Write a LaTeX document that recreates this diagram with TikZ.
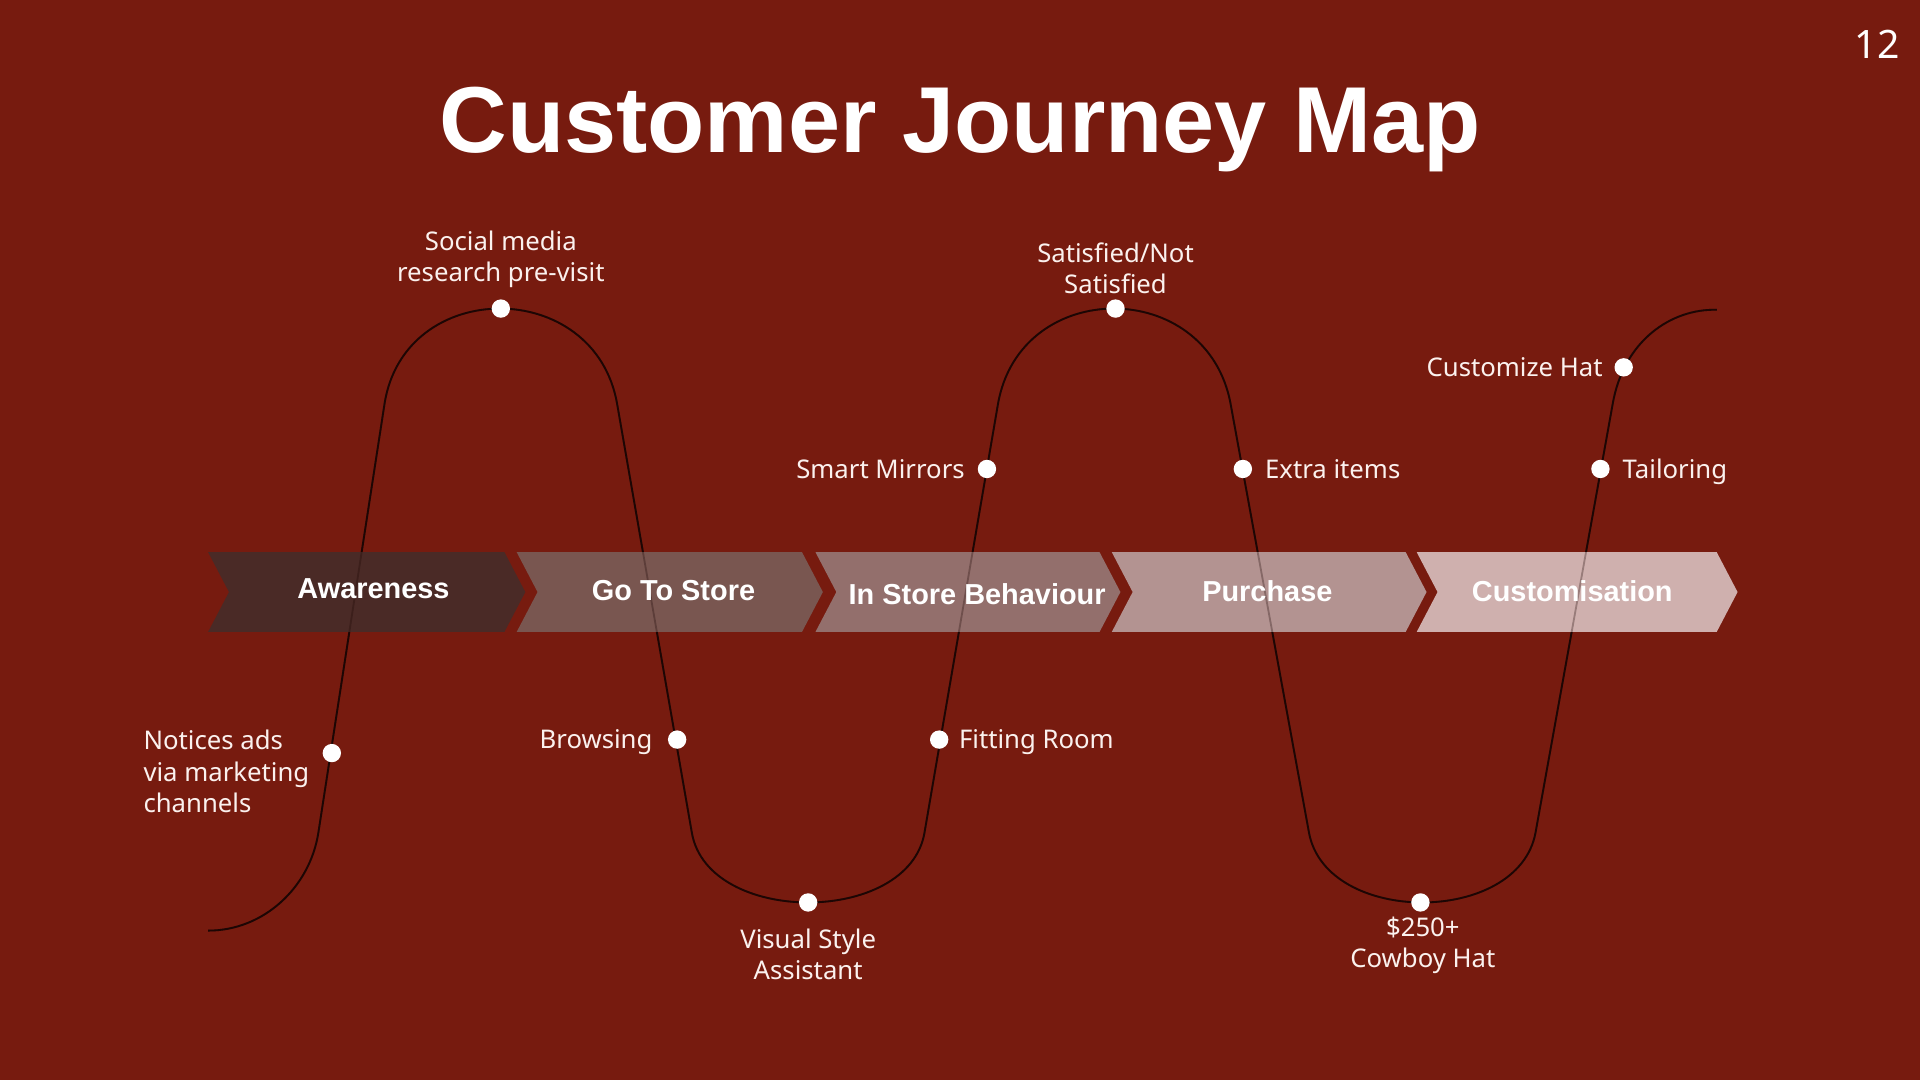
\documentclass[tikz,border=0pt]{standalone}
\usepackage{fontspec}
\setmainfont{Noto Sans}
\newfontfamily\headfont{Liberation Sans}
\definecolor{bg}{HTML}{771B0F}
\definecolor{wave}{HTML}{1C0604}
\definecolor{cA}{HTML}{4A2A26}
\definecolor{cB}{HTML}{795650}
\definecolor{cC}{HTML}{936F6C}
\definecolor{cD}{HTML}{B39391}
\definecolor{cE}{HTML}{CFB0AE}
\definecolor{txt}{HTML}{FBF1EE}
\newcommand\wavepath{(170,760) .. controls (215,760) and (253,725) .. (260,680) -- (314,330) .. controls (330,226) and (486,226) .. (504,330) -- (565,680) .. controls (578,756) and (742,756) .. (755,680) -- (815,330) .. controls (833,226) and (986,226) .. (1005,330) -- (1069,680) .. controls (1083,756) and (1240,756) .. (1254,680) -- (1317,330) .. controls (1326,278) and (1365,252) .. (1402,253)}
\newcommand\chev[3]{\fill[#3] (#1,451) -- (#2,451) -- (#2+17,483.5) -- (#2,516) -- (#1,516) -- (#1+17,483.5) -- cycle;}
\tikzset{
  dot/.style={circle, fill=white, inner sep=0pt, minimum size=15pt},
  lbl/.style={text=txt, inner sep=0pt, font=\fontsize{21}{25.5}\selectfont},
  stage/.style={text=white, inner sep=0pt, font=\headfont\fontsize{23.6}{27}\selectfont\bfseries},
  waveline/.style={draw=wave, line width=1.5pt}
}
\begin{document}
\begin{tikzpicture}[x=1pt,y=-1pt]
\fill[bg] (0,0) rectangle (1568,882);
\useasboundingbox (0,0) rectangle (1568,882);
% title and page number
\node[text=white, inner sep=0pt, font=\headfont\fontsize{76.5}{80}\selectfont\bfseries] (title) at (784,106) {Customer Journey Map};
\node[text=white, inner sep=0pt, font=\fontsize{32}{36}\selectfont] (page) at (1533,36) {12};
% wave below the chevrons
\draw[waveline] \wavepath;
% chevrons
\chev{170}{412}{cA}
\chev{422}{655}{cB}
\chev{666}{898}{cC}
\chev{908}{1148}{cD}
\chev{1157}{1402}{cE}
% faint wave over the chevrons
\draw[waveline, draw opacity=0.3] \wavepath;
% stage labels
\node[stage, anchor=base] (s1) at (305,488.5) {Awareness};
\node[stage, anchor=base] (s2) at (550,490.5) {Go To Store};
\node[stage, anchor=base] (s3) at (798,493.5) {In Store Behaviour};
\node[stage, anchor=base] (s4) at (1035,491.5) {Purchase};
\node[stage, anchor=base] (s5) at (1284,491.5) {Customisation};
% dots
\node[dot] (d1) at (271,615) {};
\node[dot] (d2) at (409,252) {};
\node[dot] (d3) at (553,604) {};
\node[dot] (d4) at (660,737) {};
\node[dot] (d5) at (767,604) {};
\node[dot] (d6) at (806,383) {};
\node[dot] (d7) at (911,252) {};
\node[dot] (d8) at (1015,383) {};
\node[dot] (d9) at (1160,737) {};
\node[dot] (d10) at (1307,383) {};
\node[dot] (d11) at (1326,300) {};
% labels
\node[lbl, align=left, anchor=west] (l1) at (117,630) {Notices ads\\via marketing\\channels};
\node[lbl, align=center] (l2) at (409,211.5) {Social media\\research pre-visit};
\node[lbl, anchor=base east] (l3) at (533,611.5) {Browsing};
\node[lbl, align=center] (l4) at (660,779.5) {Visual Style\\Assistant};
\node[lbl, anchor=base west] (l5) at (783,611.5) {Fitting Room};
\node[lbl, anchor=base east] (l6) at (788,390.5) {Smart Mirrors};
\node[lbl, align=center] (l7) at (911,219) {Satisfied/Not\\Satisfied};
\node[lbl, anchor=base west] (l8) at (1033,390.5) {Extra items};
\node[lbl, align=center] (l9) at (1162,772) {\$250+\\Cowboy Hat};
\node[lbl, anchor=base west] (l10) at (1325,390.5) {Tailoring};
\node[lbl, anchor=base east] (l11) at (1309,307.5) {Customize Hat};
\end{tikzpicture}
\end{document}
